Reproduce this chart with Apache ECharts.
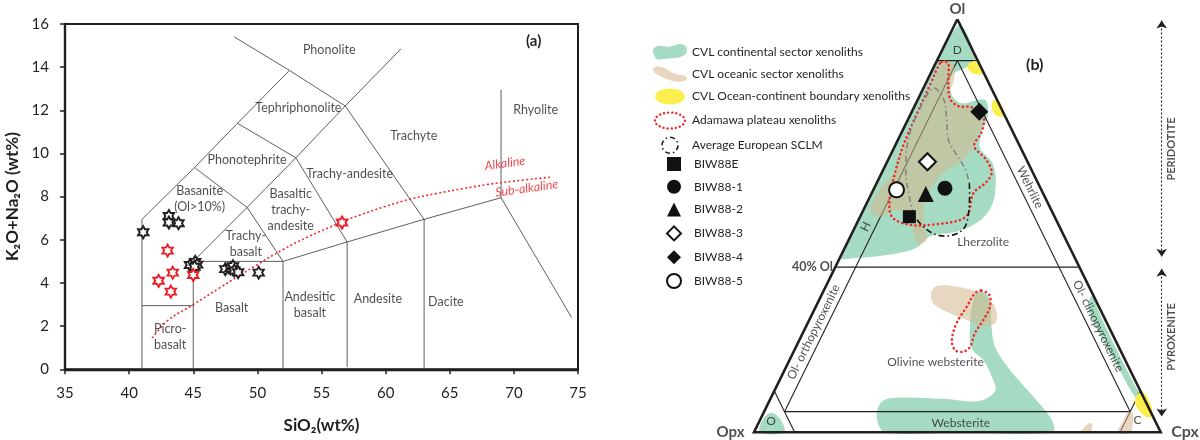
<!DOCTYPE html>
<html><head><meta charset="utf-8">
<script src="https://cdn.jsdelivr.net/npm/echarts@6/dist/echarts.min.js"></script>
<style>html,body{margin:0;padding:0;background:#fff}#c{width:1200px;height:440px}</style>
</head><body><div id="c"></div>
<script>
const FONT = 'Lato, "DejaVu Sans", sans-serif';
const INK = '#231f20';

// ===================== (a) TAS diagram =====================
const siO2Ticks = [35, 40, 45, 50, 55, 60, 65, 70, 75];
const alkaliTicks = [0, 2, 4, 6, 8, 10, 12, 14, 16];

// field boundaries [SiO2, Na2O+K2O]
const tasBoundaries = [
  [[41, 0], [41, 6.95], [45.1, 9.35], [48.45, 11.4], [52.5, 13.85]],
  [[48.2, 15.4], [52.5, 13.85], [56.85, 12.2], [63.05, 6.9]],
  [[45, 5], [49.2, 7.5], [53, 9.8], [56.85, 12.2], [61.2, 14.85]],
  [[45.1, 9.35], [49.2, 7.5], [52, 5]],
  [[48.45, 11.4], [53, 9.8], [57, 5.9]],
  [[41, 2.95], [45, 2.95]],
  [[45, 0], [45, 5], [52, 5]],
  [[52, 0], [52, 5], [57, 5.9], [63, 6.95], [69, 7.95]],
  [[57, 0.1], [57, 5.9]],
  [[63, 0], [63, 6.95]],
  [[69, 12.95], [69, 7.95], [74.5, 2.4]]
];

// Alkaline / Sub-alkaline divide
const alkalineBoundary = [[41.8, 1.45], [43, 2.25], [45, 3.0], [47, 3.75], [50, 4.85], [52, 5.55], [54, 6.15],
  [56.5, 6.8], [58, 7.15], [60, 7.55], [62, 7.9], [64, 8.15], [66, 8.37], [68, 8.57], [70, 8.72], [72.8, 8.9]];

// sample points
const blackStars = [[41.1, 6.35], [43.1, 7.1], [43.1, 6.8], [43.85, 6.77], [44.75, 4.83], [45.15, 4.98], [45.3, 4.85],
  [45.1, 4.75], [47.5, 4.64], [47.9, 4.68], [48.1, 4.78], [48.2, 4.58], [48.5, 4.5], [50.1, 4.48]];
const redStars = [[43.0, 5.5], [42.3, 4.1], [43.4, 4.48], [43.25, 3.6], [45.0, 4.37], [56.6, 6.8]];

const tasFieldLabels = [
  ['Phonolite', 55.6, 14.8], ['Tephriphonolite', 53.2, 12.1], ['Phonotephrite', 49.2, 9.7],
  ['Trachyte', 62.2, 10.8], ['Rhyolite', 71.7, 12.0], ['Trachy-andesite', 57.2, 9.05],
  ['Basanite\n(Ol>10%)', 45.5, 7.9], ['Basaltic\ntrachy-\nandesite', 52.6, 7.37], ['Trachy-\nbasalt', 49.1, 5.8],
  ['Basalt', 48.0, 2.82], ['Andesitic\nbasalt', 54.1, 3.0], ['Andesite', 59.4, 3.24], ['Dacite', 64.7, 3.13],
  ['Picro-\nbasalt', 43.2, 1.5]
];
const seriesLabels = [['Alkaline', 69.3, 9.54], ['Sub-alkaline', 71.0, 8.38]];

// ===================== (b) Ol-Opx-Cpx ternary =====================
// every point: [Ol %, Cpx %]  (Opx = 100 - Ol - Cpx)
const triangleOutline = [[100, 0], [0, 0], [0, 100], [100, 0]];
const fieldBoundaries = [
  [[90, 0], [90, 10]], [[40, 0], [40, 60]], [[5, 5], [5, 90]],
  [[90, 5], [5, 5]], [[90, 5], [5, 90]], [[10, 0], [0, 10]], [[10, 90], [0, 90]]
];

const continentalUpper = [[98.4, 0.8], [90.9, 8.9], [88.2, 7.8], [86.5, 5.4], [81.7, 7.8], [79.7, 11.3], [80.5, 16.5],
  [76.8, 19.1], [73.2, 19.5], [68.8, 21.2], [65.4, 25.8], [61.1, 28.9], [55, 31], [50.9, 29.6], [48.5, 25.2],
  [47.5, 19.5], [44.9, 17.9], [43.7, 15.3], [42.7, 9.6], [42.2, 3.7], [42.4, 0.2], [70, 0.2]];
const continentalLower = [[34.3, 38.4], [32.4, 41.7], [25.6, 45.6], [20.7, 48.9], [15.1, 55.4], [8.6, 64.4], [3, 71.7],
  [0, 73.4], [0, 50.6], [0, 32.3], [3.4, 28.5], [7.4, 27.7], [8.4, 31.7], [8.1, 42.5], [7.6, 51.5], [10, 54.3],
  [13.5, 51.7], [17.5, 47.6], [20.3, 43.4], [25.6, 40.3], [32, 37.9]];
const continentalStrip = [[33, 66.6], [28, 71.3], [20, 79.2], [12, 87.3], [8, 91.4], [8.5, 89.5], [14, 83.5], [22, 75], [30, 67.2]];
const continentalCorner = [[0, 1.5], [3.5, 0.7], [4.7, 2.1], [3, 5.1], [0, 7.4]];

const oceanicUpper = [[90, 2], [88.5, 5], [85.3, 6.5], [82.1, 7.1], [79.7, 9.6], [78.8, 13.7], [77.6, 16.4], [74.8, 18.6],
  [71.6, 19], [69.2, 19.3], [65.9, 18.5], [63.5, 15.6], [61.1, 14.4], [57, 14], [53, 15.1], [49.8, 17.1], [46.6, 19.2],
  [45.8, 17.5], [48.2, 15.1], [52.2, 12.3], [53.8, 8.2], [52.2, 4.9], [53.8, 1.6], [58.7, 1.5], [62.7, 3],
  [68.4, 2.2], [73.2, 2], [78.8, 1.8], [83, 1.6], [87, 1.5], [89.3, 1.5]];
const oceanicLower = [[35.4, 27.2], [35.3, 32.2], [33.7, 38.7], [31.6, 42.6], [28.8, 45.3], [26.4, 46.1], [25.7, 43.5],
  [27.2, 38.7], [29.2, 32.8], [31.2, 28.5], [33.7, 26.7]];
const oceanicBaseA = [[0, 80.5], [1.8, 80.9], [2.2, 82], [0.5, 82.8], [0, 82.8]];
const oceanicBaseB = [[0, 89.5], [3, 89.4], [5, 89.6], [4.5, 91], [1, 92.5], [0, 92.8]];

const boundaryBlob1 = [[88.7, 8.1], [89.9, 9.4], [88.4, 11.9], [86.8, 12.9], [87, 10.1]];
const boundaryBlob2 = [[79.5, 18.7], [80.7, 19.4], [79, 21.5], [76.6, 23.2], [76.9, 20.8]];
const boundaryBlob3 = [[9, 89.7], [9.8, 90.7], [5.9, 94.9], [3.5, 95.6], [4.9, 92.5], [7.3, 90]];

const adamawaUpper = [[89.7, 1.3], [89.3, 3.1], [85.3, 5.1], [80.9, 7.7], [79, 10.7], [78.7, 14.2], [76.4, 18.2],
  [72.8, 19.6], [69.3, 19.5], [66.3, 23.7], [63.1, 26.9], [60.7, 26.9], [57.9, 25], [53, 26.2], [51.4, 25],
  [50.4, 19.7], [50.2, 13.3], [52.2, 7.8], [57, 4.9], [62.7, 3.3], [69.2, 2], [76.4, 1.5], [84.5, 1.2], [88.5, 1]];
const adamawaLower = [[34.3, 38.8], [33.2, 41.3], [30.4, 42.8], [27.2, 42.8], [24, 42.3], [20.7, 42.8], [19.5, 41.7],
  [19.9, 39.5], [22.3, 37.5], [26.4, 36.6], [30.4, 37.1], [33.7, 37.5]];

const sclmUpper = [[52.6, 12.9], [57, 9.7], [62.7, 6], [70.8, 2.5], [77.6, 1.6], [83.3, 2.4], [80.9, 6.1], [75.6, 9.6],
  [70.8, 12.4], [67.1, 16.3], [63.9, 19.9], [60.3, 22.8]];
const sclmLower = [[60.3, 22.8], [54.6, 25.6], [49.8, 27], [47.8, 25.1], [47.8, 21], [49.8, 16.7], [52.6, 12.9]];

const samples = [
  { name: 'BIW88E', ol: 52.2, cpx: 12.1 },
  { name: 'BIW88-1', ol: 59.1, cpx: 17.4 },
  { name: 'BIW88-2', ol: 57.7, cpx: 13.4 },
  { name: 'BIW88-3', ol: 65.5, cpx: 9.9 },
  { name: 'BIW88-4', ol: 77.6, cpx: 16.6 },
  { name: 'BIW88-5', ol: 58.7, cpx: 5.7 }
];

const ternaryFieldLabels = [
  ['D', 92.6, 3.7, 0], ['H', 49.8, 2.6, 63.8], ['Wehrlite', 59.3, 38.2, -63.8], ['Lherzolite', 46.1, 33.3, 0],
  ['Ol- orthopyroxenite', 24.3, 2.5, 63.8], ['Ol- clinopyroxenite', 25.7, 71.8, -63.8],
  ['Olivine websterite', 16.9, 36.2, 0], ['Websterite', 2.3, 49.7, 0], ['O', 2.6, 2.9, 0], ['C', 3, 92.8, 0]
];
const peridotiteSpan = [99.7, 42.5];   // Ol %
const pyroxeniteSpan = [39.6, 3.8];    // Ol %

// ---------------------------------------------------------------
const tern = (ol, cpx) => [cpx + ol / 2, ol];
const STAR = 'path://M0,-10L2.89,-5L8.66,-5L5.77,0L8.66,5L2.89,5L0,10L-2.89,5L-8.66,5L-5.77,0L-8.66,-5L-2.89,-5Z';
const ELLIPSE = 'path://M0,8C0,3.6 6.7,0 15,0C23.3,0 30,3.6 30,8C30,12.4 23.3,16 15,16C6.7,16 0,12.4 0,8Z';
const CIRCLE16 = 'path://M0,8C0,3.6 3.6,0 8,0C12.4,0 16,3.6 16,8C16,12.4 12.4,16 8,16C3.6,16 0,12.4 0,8Z';
const BLOB_G = 'path://M2,9C0,4 6,1 12,3C18,5 22,0 28,1C33,2 34,8 30,11C24,15 14,13 8,15C4,16 3,12 2,9Z';
const BLOB_B = 'path://M1,3C4,0 10,2 16,6C22,10 30,8 31,12C31,16 22,16 14,13C7,10 -1,7 1,3Z';

const GREEN = '#a6dbc3', BEIGE = 'rgba(214,182,140,0.55)', YELLOW = '#fbef4f', RED = '#ee2b2b';

function regionSeries(name, polys, styles, z, closed) {
  return {
    type: 'custom', name, coordinateSystem: 'cartesian2d', xAxisIndex: 1, yAxisIndex: 1, z, silent: true,
    data: polys.map(p => tern(p[0][0], p[0][1])),
    renderItem: (params, api) => {
      const pts = polys[params.dataIndex].map(p => api.coord(tern(p[0], p[1])));
      const st = Array.isArray(styles) ? styles[params.dataIndex] : styles;
      return { type: closed ? 'polygon' : 'polyline', shape: { points: pts, smooth: 0.35 }, style: Object.assign({}, st) };
    }
  };
}

function textSeries(grid, items, extra) {
  return Object.assign({
    type: 'scatter', xAxisIndex: grid, yAxisIndex: grid, symbolSize: 1, clip: false, silent: true, z: 20,
    itemStyle: { color: 'rgba(0,0,0,0)' },
    label: { show: true, position: 'inside', color: INK, fontFamily: FONT, fontSize: 12.5, lineHeight: 16,
      formatter: p => p.data.t }
  }, extra, { data: items });
}

const series = [];
// ---- (a)
series.push({
  type: 'lines', coordinateSystem: 'cartesian2d', xAxisIndex: 0, yAxisIndex: 0, polyline: true, silent: true, z: 2,
  data: tasBoundaries.map(c => ({ coords: c })),
  lineStyle: { color: '#4d4d4d', width: 0.9, opacity: 1 }
});
series.push({
  type: 'line', xAxisIndex: 0, yAxisIndex: 0, data: alkalineBoundary, smooth: 0.4, showSymbol: false, silent: true, z: 3,
  lineStyle: { color: RED, width: 1.6, type: [2, 2.4] }
});
series.push({
  type: 'scatter', xAxisIndex: 0, yAxisIndex: 0, data: blackStars, symbol: STAR, symbolSize: 12, symbolKeepAspect: true, z: 5,
  itemStyle: { color: '#fff', borderColor: INK, borderWidth: 1.9, opacity: 1 }
});
series.push({
  type: 'scatter', xAxisIndex: 0, yAxisIndex: 0, data: redStars, symbol: STAR, symbolSize: 12, symbolKeepAspect: true, z: 6,
  itemStyle: { color: '#fff', borderColor: '#ec1c24', borderWidth: 1.9, opacity: 1 }
});
series.push(textSeries(0, tasFieldLabels.map(l => ({ value: [l[1], l[2]], t: l[0] }))));
series.push(textSeries(0, seriesLabels.map(l => ({ value: [l[1], l[2]], t: l[0] })),
  { label: { show: true, position: 'inside', color: '#ec1c24', fontFamily: FONT, fontSize: 12.5, fontStyle: 'italic', rotate: 8, formatter: p => p.data.t } }));

// ---- (b)
series.push(regionSeries('CVL continental sector xenoliths',
  [continentalUpper, continentalLower, continentalStrip, continentalCorner], { fill: GREEN }, 1, true));
series.push({
  type: 'lines', coordinateSystem: 'cartesian2d', xAxisIndex: 1, yAxisIndex: 1, polyline: true, silent: true, z: 2, clip: false,
  data: fieldBoundaries.map(c => ({ coords: c.map(p => tern(p[0], p[1])) })),
  lineStyle: { color: INK, width: 1.1, opacity: 1 }
});
series.push(regionSeries('CVL oceanic sector xenoliths',
  [oceanicUpper, oceanicLower, oceanicBaseA, oceanicBaseB], { fill: BEIGE }, 3, true));
series.push(regionSeries('CVL Ocean-continent boundary xenoliths',
  [boundaryBlob1, boundaryBlob2, boundaryBlob3], { fill: YELLOW }, 3, true));
series.push(regionSeries('Adamawa plateau xenoliths', [adamawaUpper, adamawaLower],
  { fill: 'none', stroke: RED, lineWidth: 2.6, lineDash: [0.1, 4.4], lineCap: 'round' }, 4, true));
series.push(regionSeries('Average European SCLM', [sclmUpper, sclmLower], [
  { fill: 'none', stroke: '#808080', lineWidth: 1.5, lineDash: [6, 3, 1.5, 3] },
  { fill: 'none', stroke: '#111', lineWidth: 1.6, lineDash: [6, 3, 1.5, 3] }], 4, false));
series.push({
  type: 'lines', coordinateSystem: 'cartesian2d', xAxisIndex: 1, yAxisIndex: 1, polyline: true, silent: true, z: 5, clip: false,
  data: [{ coords: triangleOutline.map(p => tern(p[0], p[1])) }],
  lineStyle: { color: INK, width: 2.6, opacity: 1, join: 'miter' }
});
// side arrows
series.push({
  type: 'lines', coordinateSystem: 'cartesian2d', xAxisIndex: 1, yAxisIndex: 1, silent: true, z: 5, clip: false,
  symbol: ['arrow', 'arrow'], symbolSize: 8,
  data: [peridotiteSpan, pyroxeniteSpan].map(s => ({ coords: [[100.25, s[0]], [100.25, s[1]]] })),
  lineStyle: { color: INK, width: 1.1, type: [2, 2], opacity: 1 }
});
series.push(textSeries(1, [
  { value: [102.7, (peridotiteSpan[0] + peridotiteSpan[1]) / 2 - 2.5], t: 'PERIDOTITE' },
  { value: [102.7, (pyroxeniteSpan[0] + pyroxeniteSpan[1]) / 2 + 1.4], t: 'PYROXENITE' }],
  { label: { show: true, position: 'inside', rotate: 90, color: INK, fontFamily: FONT, fontSize: 11, fontWeight: 'bold', formatter: p => p.data.t } }));
series.push(textSeries(1, ternaryFieldLabels.map(l => ({ value: tern(l[1], l[2]), t: l[0], label: { rotate: l[3] } })),
  { label: { show: true, position: 'inside', color: INK, fontFamily: FONT, fontSize: 12, formatter: p => p.data.t } }));
// vertex + 40% labels
series.push(textSeries(1, [
  { value: tern(100, 0), t: 'Ol', label: { position: 'top', distance: 2 } },
  { value: tern(0, 0), t: 'Opx', label: { position: 'left', distance: 9 } },
  { value: tern(0, 100), t: 'Cpx', label: { position: 'right', distance: 10, fontSize: 16 } },
  { value: tern(40, 0), t: '40% Ol', label: { position: 'left', distance: 2, fontSize: 12.5 } }],
  { label: { show: true, color: INK, fontFamily: FONT, fontSize: 15, fontWeight: 'bold', formatter: p => p.data.t } }));

// sample markers
const markerStyle = {
  'BIW88E': { symbol: 'rect', size: 13, fill: '#111' },
  'BIW88-1': { symbol: 'circle', size: 15, fill: '#111' },
  'BIW88-2': { symbol: 'triangle', size: 16, fill: '#111' },
  'BIW88-3': { symbol: 'diamond', size: 17, fill: '#fff', border: 2 },
  'BIW88-4': { symbol: 'diamond', size: 18, fill: '#111' },
  'BIW88-5': { symbol: 'circle', size: 15, fill: '#fff', border: 2 }
};
samples.forEach(s => {
  const m = markerStyle[s.name];
  series.push({
    type: 'scatter', name: s.name, xAxisIndex: 1, yAxisIndex: 1, z: 8, clip: false,
    data: [tern(s.ol, s.cpx)], symbol: m.symbol, symbolSize: m.size,
    itemStyle: { color: m.fill, borderColor: '#111', borderWidth: m.border || 0, opacity: 1 }
  });
});

const option = {
  animation: false,
  backgroundColor: '#fff',
  textStyle: { fontFamily: FONT },
  title: [
    { text: '(a)', left: 521, top: 29, textStyle: { fontSize: 15, fontWeight: 'bold', color: INK, fontFamily: FONT } },
    { text: '(b)', left: 1021, top: 52, textStyle: { fontSize: 16, fontWeight: 'bold', color: INK, fontFamily: FONT } }
  ],
  legend: [
    {
      orient: 'vertical', left: 648, top: 39, itemWidth: 34, itemHeight: 16, itemGap: 6.8, selectedMode: false,
      textStyle: { fontSize: 12, color: INK, fontFamily: FONT },
      data: [
        { name: 'CVL continental sector xenoliths', icon: BLOB_G, itemStyle: { color: GREEN, borderWidth: 0 } },
        { name: 'CVL oceanic sector xenoliths', icon: BLOB_B, itemStyle: { color: '#e8d6bf', borderWidth: 0 } },
        { name: 'CVL Ocean-continent boundary xenoliths', icon: ELLIPSE, itemStyle: { color: YELLOW, borderWidth: 0 } },
        { name: 'Adamawa plateau xenoliths', icon: ELLIPSE, itemStyle: { color: 'rgba(0,0,0,0)', borderColor: RED, borderWidth: 2.4, borderType: [0.1, 4], borderCap: 'round' } },
        { name: 'Average European SCLM', icon: CIRCLE16, itemStyle: { color: 'rgba(0,0,0,0)', borderColor: '#111', borderWidth: 1.5, borderType: [5, 3, 1.5, 3] } }
      ]
    },
    {
      orient: 'vertical', left: 661, top: 152, itemWidth: 14, itemHeight: 14, itemGap: 8.8, selectedMode: false,
      textStyle: { fontSize: 12, color: INK, fontFamily: FONT, padding: [0, 0, 0, 8] },
      data: samples.map(s => {
        const m = markerStyle[s.name];
        return { name: s.name, icon: m.symbol, itemStyle: { color: m.fill, borderColor: '#111', borderWidth: m.border || 0 } };
      })
    }
  ],
  grid: [
    { left: 65, top: 24, width: 513, height: 345.3, show: true, borderColor: INK, borderWidth: 2, backgroundColor: 'rgba(0,0,0,0)', outerBoundsMode: 'none', containLabel: false },
    { left: 754, top: 19.3, width: 406.7, height: 413, show: false, outerBoundsMode: 'none', containLabel: false }
  ],
  xAxis: [
    {
      gridIndex: 0, type: 'value', min: siO2Ticks[0], max: siO2Ticks[siO2Ticks.length - 1], interval: siO2Ticks[1] - siO2Ticks[0],
      name: 'SiO₂(wt%)', nameLocation: 'middle', nameGap: 48,
      nameTextStyle: { fontSize: 17, fontWeight: 'bold', color: INK, fontFamily: FONT },
      axisLine: { show: true, onZero: false, lineStyle: { color: INK, width: 2.4 } },
      axisTick: { show: true, inside: false, length: 5, lineStyle: { color: INK, width: 1.5 } },
      axisLabel: { fontSize: 15, color: INK, margin: 16, fontFamily: FONT },
      splitLine: { show: false }
    },
    { gridIndex: 1, type: 'value', min: 0, max: 100, show: false }
  ],
  yAxis: [
    {
      gridIndex: 0, type: 'value', min: alkaliTicks[0], max: alkaliTicks[alkaliTicks.length - 1], interval: alkaliTicks[1] - alkaliTicks[0],
      name: 'K₂O+Na₂O (wt%)', nameLocation: 'middle', nameGap: 44,
      nameTextStyle: { fontSize: 17, fontWeight: 'bold', color: INK, fontFamily: FONT },
      axisLine: { show: true, onZero: false, lineStyle: { color: INK, width: 2.4 } },
      axisTick: { show: true, inside: false, length: 5, lineStyle: { color: INK, width: 1.5 } },
      axisLabel: { fontSize: 15, color: INK, margin: 16, fontFamily: FONT },
      splitLine: { show: false }
    },
    { gridIndex: 1, type: 'value', min: 0, max: 100, show: false }
  ],
  series
};

const chart = echarts.init(document.getElementById('c'));
chart.setOption(option);
</script>
</body></html>
